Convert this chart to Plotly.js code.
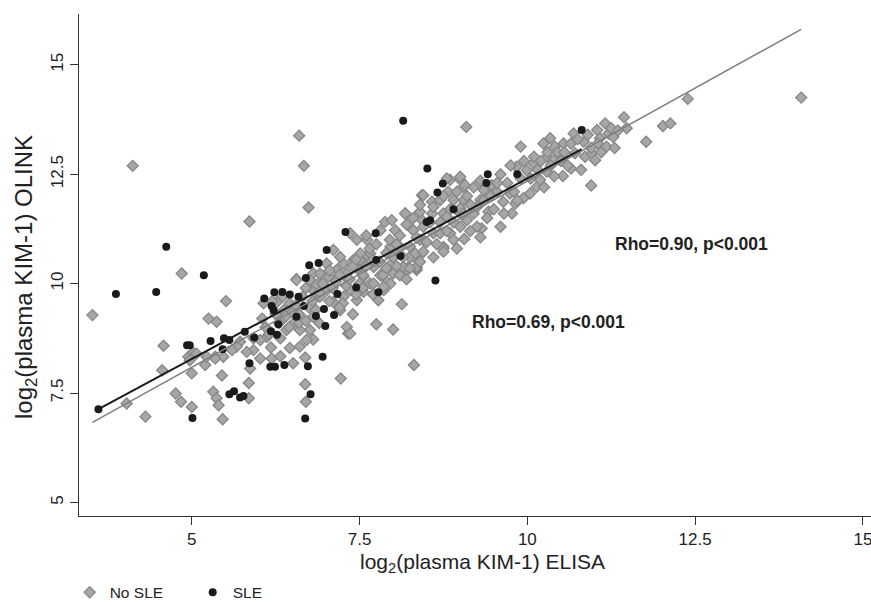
<!DOCTYPE html>
<html>
<head>
<meta charset="utf-8">
<script src="https://cdn.plot.ly/plotly-3.0.1.min.js"></script>
<style>html,body{margin:0;padding:0;background:#fff;}#chart{width:871px;height:606px;}</style>
</head>
<body>
<div id="chart"></div>
<script>
// ---- No SLE (grey diamonds): ELISA (x) vs OLINK (y) ----
var noSleX = [
3.52,4.03,4.31,4.12,4.58,4.56,4.76,4.84,5.00,5.46,5.45,5.25,5.37,5.51,4.85,8.31,7.22,6.69,6.70,5.85,5.85,5.32,5.37,5.40,
4.95,5.02,5.00,5.20,5.35,7.75,8.00,8.13,7.33,6.81,6.02,6.19,6.32,6.46,6.18,6.69,
6.60,6.67,6.74,5.86,9.09,12.39,14.08,12.02,12.13,11.77,11.44,11.48,10.95,9.90,10.53,10.65,9.77,9.06,9.32,9.30,
8.18,8.43,8.30,8.43,8.58,8.70,8.85,9.00,9.05,8.82,8.90,8.75,9.00,9.10,9.20,9.30,9.35,9.47,9.55,9.25,9.42,9.64,9.74,9.82,
9.84,9.99,10.09,10.14,10.04,9.94,10.19,10.29,10.24,10.34,10.41,10.29,10.39,10.54,10.69,10.71,10.84,10.86,10.96,11.01,
11.04,11.16,11.21,11.28,11.18,11.08,8.23,8.35,8.15,8.30,8.45,8.75,8.85,8.60,9.00,
6.56,6.81,6.91,7.04,7.16,7.26,7.31,7.46,7.51,7.61,7.71,7.81,7.91,7.98,8.05,8.20,8.30,8.35,8.43,
6.81,6.91,7.01,7.11,7.26,7.36,7.46,7.56,7.66,7.78,7.86,7.96,7.21,7.31,7.36,6.81,6.76,6.61,6.51,6.41,6.32,6.12,6.02,5.92,
5.72,5.67,5.60,5.47,5.35,5.22,5.07,4.97,6.37,6.46,6.27,6.07,6.71,6.61,6.51,5.87,5.92,5.82,
7.36,7.46,7.61,7.81,7.88,7.98,8.03,8.18,8.30,8.40,8.45,8.58,8.70,8.80,9.00,9.07,9.05,9.00,8.80,8.70,8.75,8.40,8.25,8.10,
7.96,7.66,7.51,7.41,7.21,7.11,7.01,6.91,6.76,6.56,6.86,7.01,7.31,7.56,7.71,7.86,8.00,8.15,8.35,8.33,
8.10,8.25,8.45,8.75,
6.05,6.10,6.15,6.25,6.30,6.40,6.45,6.50,6.20,6.35,
6.55,6.60,6.65,6.70,6.75,6.80,6.85,6.90,6.95,6.60,6.70,6.90,
7.05,7.10,7.15,7.20,7.25,7.30,7.35,7.40,7.45,7.50,7.05,7.20,7.40,7.45,
7.55,7.60,7.65,7.70,7.75,7.80,7.85,7.90,7.95,7.55,7.70,7.90,8.00,7.60,
8.05,8.10,8.15,8.20,8.25,8.30,8.35,8.40,8.45,8.50,8.05,8.20,8.40,
8.55,8.60,8.65,8.70,8.75,8.80,8.85,8.90,8.95,8.60,8.90,8.95,
9.05,9.10,9.15,9.20,9.25,9.30,9.35,9.40,9.45,9.50,9.15,
9.55,9.60,9.65,9.70,9.75,9.80,9.85,9.90,9.95,9.60,
10.05,10.10,10.15,10.20,10.25,10.30,10.35,10.40,10.45,10.50,
10.55,10.60,10.65,10.75,10.80,10.90,10.95,11.05,11.10,11.25,11.30,11.35
];
var noSleY = [
9.28,7.26,6.96,12.69,8.58,8.02,7.49,7.30,7.18,6.90,7.90,9.20,9.13,9.60,10.23,8.14,7.83,7.70,7.30,7.73,7.38,7.53,7.38,7.22,
8.33,8.42,7.95,8.14,8.33,9.07,8.95,9.53,8.86,8.72,8.29,8.29,8.34,8.53,8.54,8.31,
13.38,12.69,11.74,11.42,13.58,14.22,14.25,13.60,13.66,13.24,13.80,13.55,12.24,13.13,12.46,12.63,11.60,11.02,11.26,11.06,
11.60,12.02,11.22,11.45,11.60,11.91,12.37,12.37,12.21,12.10,11.91,11.60,11.60,11.45,11.60,11.91,12.14,12.25,12.10,11.75,11.64,11.87,12.06,11.83,
12.67,12.59,12.75,12.21,12.06,11.95,12.37,12.56,13.20,13.32,13.13,12.90,12.82,13.20,13.43,12.98,13.24,12.90,12.98,12.82,
13.51,13.66,13.43,13.35,13.13,13.32,10.38,10.31,10.23,10.69,11.00,10.84,11.15,11.15,11.30,
10.10,10.23,10.04,10.16,10.31,10.46,10.12,10.35,10.54,10.65,10.38,10.19,10.04,10.46,10.69,10.31,10.61,10.35,10.69,
9.85,9.70,9.89,9.58,9.70,9.85,9.62,9.81,10.00,9.62,9.85,10.00,9.39,9.01,8.86,9.24,8.94,8.94,9.09,8.94,8.75,8.78,8.71,8.75,
8.67,8.56,8.48,8.33,8.29,8.33,8.40,8.25,9.39,9.55,9.58,9.55,8.71,8.56,8.18,8.06,8.48,8.44,
11.15,11.00,11.00,11.22,11.41,11.45,11.22,11.60,11.22,11.64,12.02,11.87,11.91,12.40,12.44,12.25,11.91,11.72,11.53,11.15,10.80,11.00,10.61,10.84,
10.84,10.69,10.69,10.54,10.61,10.77,10.46,10.23,10.08,10.08,9.97,9.85,10.23,10.16,10.00,9.93,10.23,10.38,10.38,10.69,
10.19,10.35,10.73,10.73,
9.20,9.00,8.85,9.30,9.10,9.25,9.00,9.35,9.60,9.70,
9.50,9.30,9.70,9.90,9.45,9.60,9.40,9.80,10.00,9.10,9.15,9.10,
9.60,9.90,10.05,10.20,9.55,9.95,10.10,10.40,9.75,10.00,10.30,9.45,9.30,10.55,
10.20,10.40,10.80,10.55,10.90,10.50,10.20,10.70,11.00,9.90,9.75,10.35,10.60,11.10,
10.90,11.10,10.60,11.35,10.85,11.50,11.05,10.50,11.30,10.95,10.40,10.10,11.80,
11.40,11.75,10.90,11.40,12.00,11.20,11.70,11.40,12.10,10.60,11.00,10.80,
11.60,12.00,11.80,12.20,11.30,12.35,11.90,11.50,12.00,11.70,11.20,
12.30,12.50,11.60,12.30,12.70,12.10,11.90,12.40,12.80,11.30,
12.40,12.90,12.60,12.80,12.20,13.00,12.70,12.45,13.00,12.80,
13.00,12.70,13.20,13.30,12.60,13.40,13.10,13.20,13.00,13.55,13.10,13.50
];

// ---- SLE (black circles) ----
var sleX = [
8.15,8.51,8.74,8.66,8.90,8.50,8.55,7.29,7.74,7.01,6.75,6.89,8.11,7.75,6.70,8.63,7.45,7.17,7.78,4.62,5.18,3.87,4.47,
6.08,6.23,6.35,6.46,6.59,6.19,6.22,6.67,6.56,6.85,6.97,7.12,6.99,6.29,6.18,6.27,5.79,5.93,5.48,5.56,5.46,5.28,4.93,4.97,
5.86,6.17,6.24,6.38,6.73,6.95,5.56,5.63,5.72,5.77,6.77,3.61,5.01,6.69,9.41,9.39,9.85,10.81
];
var sleY = [
13.72,12.63,12.29,12.08,11.70,11.41,11.45,11.18,11.15,10.77,10.42,10.47,10.63,10.54,10.13,10.07,9.91,9.76,9.80,10.84,10.19,9.76,9.81,
9.66,9.80,9.81,9.75,9.70,9.49,9.39,9.49,9.24,9.26,9.42,9.28,9.03,9.07,8.91,8.83,8.90,8.77,8.75,8.71,8.50,8.69,8.59,8.59,
8.18,8.10,8.10,8.14,8.11,8.33,7.47,7.54,7.40,7.43,7.47,7.13,6.93,6.92,12.50,12.30,12.50,13.51
];

// ---- fitted lines (end points) ----
var fitNoSleX = [3.52, 14.08];
var fitNoSleY = [6.83, 15.81];
var fitSleX = [3.61, 10.81];
var fitSleY = [7.13, 13.07];

var tickVals = [5, 7.5, 10, 12.5, 15];
var tickText = ['5', '7.5', '10', '12.5', '15'];
var legendNames = ['No SLE', 'SLE'];
var rhoLabels = ['Rho=0.90, p<0.001', 'Rho=0.69, p<0.001'];
var xTitle = 'log<sub>2</sub>(plasma KIM-1) ELISA';
var yTitle = 'log<sub>2</sub>(plasma KIM-1) OLINK';

var FONT = '"Liberation Sans", Arial, Helvetica, sans-serif';

var traces = [
  {x: noSleX, y: noSleY, type: 'scatter', mode: 'markers', name: legendNames[0],
   marker: {symbol: 'diamond', size: 8.5, color: '#a6a6a6', line: {color: '#878787', width: 1.3}}},
  {x: sleX, y: sleY, type: 'scatter', mode: 'markers', name: legendNames[1],
   marker: {symbol: 'circle', size: 8, color: '#1a1a1a', line: {width: 0}}},
  {x: fitNoSleX, y: fitNoSleY, type: 'scatter', mode: 'lines', showlegend: false,
   line: {color: '#7f7f7f', width: 1.5}},
  {x: fitSleX, y: fitSleY, type: 'scatter', mode: 'lines', showlegend: false,
   line: {color: '#1a1a1a', width: 2}}
];

var axisCommon = {
  showgrid: false, zeroline: false, showline: true, linecolor: '#333', linewidth: 1,
  ticks: 'outside', ticklen: 8, tickcolor: '#333', tickwidth: 1,
  tickvals: tickVals, ticktext: tickText, ticklabeloverflow: 'allow',
  tickfont: {family: FONT, size: 17, color: '#222'}, automargin: false
};

var layout = {
  width: 871, height: 606,
  margin: {l: 79, r: 0, t: 14, b: 90},
  paper_bgcolor: '#fff', plot_bgcolor: '#fff',
  font: {family: FONT, color: '#222'},
  showlegend: true,
  legend: {orientation: 'h', xref: 'container', yref: 'container', x: 0.08, y: 0.022,
           xanchor: 'left', yanchor: 'middle', entrywidth: 78, entrywidthmode: 'pixels',
           font: {family: FONT, size: 15.5, color: '#222'}, bgcolor: 'rgba(0,0,0,0)'},
  xaxis: Object.assign({}, axisCommon, {range: [3.32, 15.12]}),
  yaxis: Object.assign({}, axisCommon, {range: [4.69, 16.16], tickangle: -90}),
  annotations: [
    {x: 12.44, y: 10.90, xref: 'x', yref: 'y', text: '<b>' + rhoLabels[0] + '</b>', showarrow: false,
     font: {family: FONT, size: 17.5, color: '#222'}},
    {x: 10.32, y: 9.12, xref: 'x', yref: 'y', text: '<b>' + rhoLabels[1] + '</b>', showarrow: false,
     font: {family: FONT, size: 17.5, color: '#222'}},
    // axis titles
    {x: 0.510, y: -0.0936, xref: 'paper', yref: 'paper', xanchor: 'center', yanchor: 'middle',
     text: xTitle, showarrow: false, font: {family: FONT, size: 21, color: '#222'}},
    {x: -0.0682, y: 0.476, xref: 'paper', yref: 'paper', xanchor: 'center', yanchor: 'middle', textangle: -90,
     text: yTitle, showarrow: false, font: {family: FONT, size: 24, color: '#222'}}
  ]
};

Plotly.newPlot('chart', traces, layout, {displayModeBar: false, staticPlot: true});
</script>
</body>
</html>
